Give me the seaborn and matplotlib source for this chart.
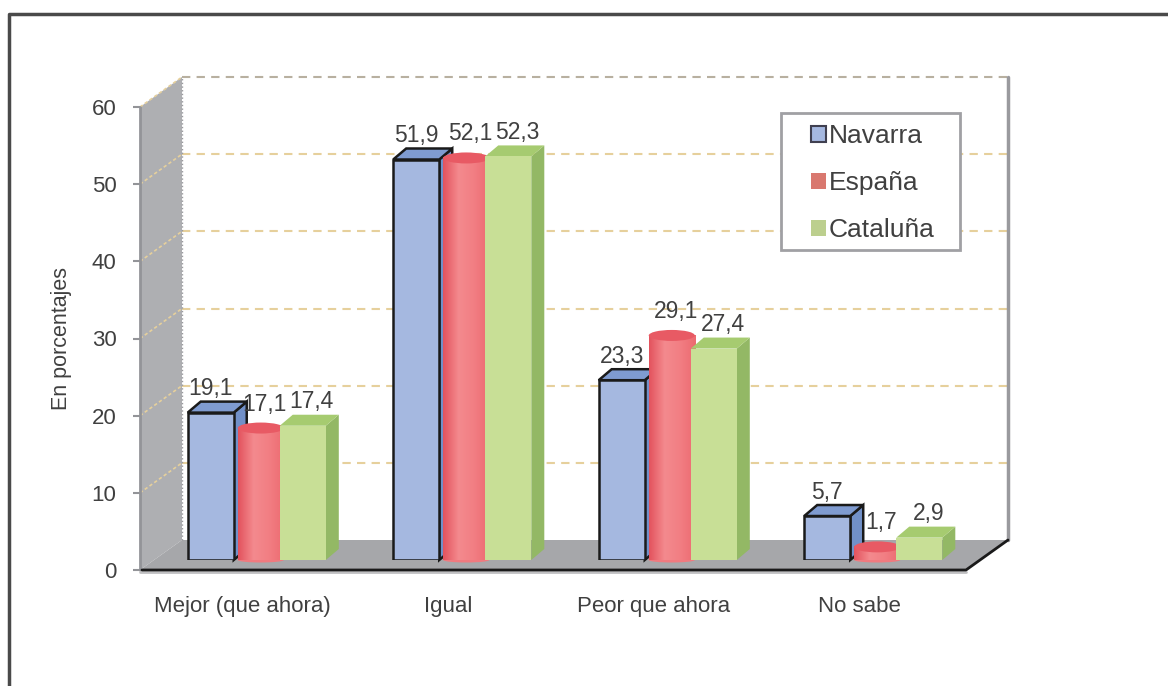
import numpy as np
import pandas as pd
import seaborn as sns
import matplotlib.pyplot as plt
from matplotlib.patches import Polygon, Ellipse, Rectangle
from matplotlib.colors import LinearSegmentedColormap

# data
categories = ["Mejor (que ahora)", "Igual", "Peor que ahora", "No sabe"]
regions = ["Navarra", "España", "Cataluña"]
navarra = [19.1, 51.9, 23.3, 5.7]
espana = [17.1, 52.1, 29.1, 1.7]
cataluna = [17.4, 52.3, 27.4, 2.9]
yticks = [0, 10, 20, 30, 40, 50, 60]

sns.set_style("white")
plt.rcParams['font.family'] = ['Liberation Sans', 'DejaVu Sans']
txt = '#404040'

df = pd.DataFrame({
    'cat': categories * 3,
    'region': [r for r in regions for _ in categories],
    'val': navarra + espana + cataluna,
})

W, H = 1168, 686
fig = plt.figure(figsize=(W / 100, H / 100), dpi=100)

def fbox(x0, ytop, w, h):
    return [x0 / W, 1 - (ytop + h) / H, w / W, h / H]

# geometry in pixels
fx0, fy0, fw, fh = 140, 570, 822, 463     # front plane of the value axis
ddx, ddy = 42, 30                          # depth of the walls
k = fh / 60

# background: frame, walls, floor, grid
bg = fig.add_axes([0, 0, 1, 1], zorder=0)
bg.set_xlim(0, W)
bg.set_ylim(H, 0)
bg.axis('off')
bg.plot([9, 9, W], [H, 14, 14], color='#4a4a4a', lw=2.5)
bg.add_patch(Polygon([(fx0, fy0), (fx0, fy0 - fh), (fx0 + ddx, fy0 - fh - ddy),
                      (fx0 + ddx, fy0 - ddy)], closed=True, fc='#aeafb2', ec='none'))
bg.add_patch(Polygon([(fx0, fy0), (fx0 + fw + 4, fy0), (fx0 + fw + 4 + ddx, fy0 - ddy),
                      (fx0 + ddx, fy0 - ddy)], closed=True, fc='#a6a7aa', ec='none'))
for v in yticks[1:]:
    yb = fy0 - ddy - v * k
    col = '#e6d09c' if v < 60 else '#b8b0a0'
    bg.plot([fx0 + ddx, fx0 + fw + 4 + ddx], [yb, yb], color=col, lw=1.5, ls=(0, (4, 3)))
    bg.plot([fx0, fx0 + ddx], [fy0 - v * k, yb], color='#e6d09c', lw=1.2, ls=(0, (2, 1.5)))
bg.plot([fx0 + ddx, fx0 + ddx], [fy0 - ddy, fy0 - ddy - fh], color='#9a9a9e', lw=1, ls=':')
bg.plot([fx0 + fw + 4 + ddx] * 2, [fy0 - ddy, fy0 - ddy - fh], color='#9a9a9e', lw=2.5)
bg.plot([fx0, fx0], [fy0, fy0 - fh], color='#939498', lw=2)
bg.plot([fx0, fx0 + fw + 4], [fy0 + 2, fy0 + 2], color='#c0c0c2', lw=2)
bg.plot([fx0 + 2, fx0 + fw + 4, fx0 + fw + 4 + ddx], [fy0, fy0, fy0 - ddy], color='#1a1a1a', lw=2)

# axis with ticks and category labels
axa = fig.add_axes(fbox(fx0, fy0 - fh, fw, fh), zorder=1)
axa.set_facecolor('none')
axa.set_xlim(-0.5, 3.5)
axa.set_ylim(0, 60)
axa.set_yticks(yticks)
axa.set_xticks(range(len(categories)))
axa.set_xticklabels(categories)
for s in axa.spines.values():
    s.set_visible(False)
axa.tick_params(axis='y', length=5, width=1.5, color='#939498', pad=12, labelsize=16, labelcolor=txt, left=True)
axa.tick_params(axis='x', length=0, pad=19, labelsize=16, labelcolor=txt)
fig.text(62 / W, 1 - 338 / H, "En porcentajes", rotation=90, ha='center', va='center',
         fontsize=15.5, color=txt)

# bars, on a plane a third of the way into the depth
axb = fig.add_axes(fbox(fx0 + 14, fy0 - 10 - fh, fw, fh), zorder=2)
axb.set_facecolor('none')
colors = {'Navarra': '#a5b8e0', 'España': '#f27b80', 'Cataluña': '#c8df96'}
sns.barplot(data=df, x='cat', y='val', hue='region', hue_order=regions, palette=colors,
            width=0.672, saturation=1, errorbar=None, legend=False, ax=axb)
axb.set_xlim(-0.5, 3.5)
axb.set_ylim(0, 60)
axb.axis('off')

ux = fw / 4          # px per x unit
sx, sy = 13 / ux, 11 / k
cyl_cmap = LinearSegmentedColormap.from_list('cyl', ['#e3535e', '#f48a8e', '#f27e83', '#ec6a70'])

side_c = {'Navarra': '#7190c8', 'Cataluña': '#93b865'}
top_c = {'Navarra': '#7f9bd0', 'Cataluña': '#a6cb70'}
lab_dx = {'Navarra': 0, 'España': 4, 'Cataluña': 9}

for i, (reg, cont) in enumerate(zip(regions, axb.containers)):
    z = 2 + i
    for bar in cont:
        x0, w, h = bar.get_x(), bar.get_width(), bar.get_height()
        if reg == 'España':
            x0 += 4 / ux
            bar.set_x(x0)
            bar.set_zorder(z)
            bar.set_edgecolor('none')
            xc = x0 + w / 2
            axb.add_patch(Ellipse((xc, 0), w, 5 / k, fc='#f07a7f', ec='none', zorder=z - 0.1, clip_on=False))
            im = axb.imshow(np.linspace(0, 1, 100)[None, :], extent=[x0, x0 + w, 0, h],
                            aspect='auto', cmap=cyl_cmap, zorder=z, clip_on=False)
            im.set_clip_path(bar)
            axb.add_patch(Ellipse((xc, h), w, 11 / k, fc='#e85a64', ec='none', zorder=z + 0.2, clip_on=False))
        else:
            ec = '#1a1a1a' if reg == 'Navarra' else 'none'
            lw = 1.8 if reg == 'Navarra' else 0
            bar.set_zorder(z + 0.1)
            bar.set_edgecolor(ec)
            bar.set_linewidth(lw)
            x1 = x0 + w
            axb.add_patch(Polygon([(x1, 0), (x1 + sx, sy), (x1 + sx, h + sy), (x1, h)], closed=True,
                                  fc=side_c[reg], ec=ec, lw=lw, zorder=z, clip_on=False))
            axb.add_patch(Polygon([(x0, h), (x0 + sx, h + sy), (x1 + sx, h + sy), (x1, h)], closed=True,
                                  fc=top_c[reg], ec=ec, lw=lw, zorder=z, clip_on=False))
        axb.annotate(f"{h:.1f}".replace('.', ','), (bar.get_x() + w / 2, h),
                     xytext=(lab_dx[reg], 24), textcoords='offset pixels',
                     ha='center', va='center', fontsize=16.5, color=txt, zorder=10)
axb.set_xlim(-0.5, 3.5)
axb.set_ylim(0, 60)

# legend: own frame, entries without frame
bg.add_patch(Rectangle((781, 113), 179, 137, fc='white', ec='#a0a0a4', lw=2, zorder=5))
handles = [Rectangle((0, 0), 1, 1, fc=colors['Navarra'], ec='#404050', lw=1.5),
           Rectangle((0, 0), 1, 1, fc='#d9786f', ec='none'),
           Rectangle((0, 0), 1, 1, fc='#bccf8e', ec='none')]
leg = fig.legend(handles, regions, loc='upper left', bbox_to_anchor=(811 / W, 1 - 124 / H),
                 borderaxespad=0, borderpad=0, fontsize=19, frameon=False,
                 handlelength=0.55, handleheight=0.55, handletextpad=0.12,
                 labelspacing=0.88)
for t in leg.get_texts():
    t.set_color(txt)
leg.set_zorder(20)

fig.savefig('out.png', dpi=100)
